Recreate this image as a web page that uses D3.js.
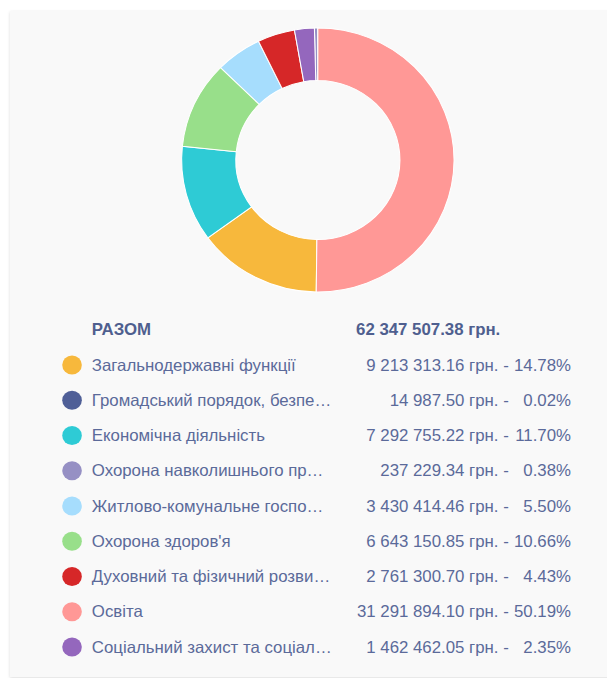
<!DOCTYPE html>
<html>
<head>
<meta charset="utf-8">
<script src="https://cdn.jsdelivr.net/npm/d3@7"></script>
<style>
  body { margin: 0; background: #fff; }
  #panel {
    position: absolute; left: 10px; top: 11px; width: 610px; height: 666px;
    background: #f9f9f9; box-shadow: 0 1px 3px rgba(0,0,0,0.14);
  }
  svg { position: absolute; left: 0; top: 0; }
  text { font-family: "Liberation Sans", Arial, sans-serif; }
</style>
</head>
<body>
<div id="panel"></div>
<div id="chart"></div>
<script>
// labels as they are shown (cut off with an ellipsis)
const categories = [
  "Загальнодержавні функції",
  "Громадський порядок, безпе…",
  "Економічна діяльність",
  "Охорона навколишнього пр…",
  "Житлово-комунальне госпо…",
  "Охорона здоров'я",
  "Духовний та фізичний розви…",
  "Освіта",
  "Соціальний захист та соціал…"
]
const amounts = [9213313.16, 14987.50, 7292755.22, 237229.34, 3430414.46, 6643150.85, 2761300.70, 31291894.10, 1462462.05]
const colors = ["#f7b83c", "#4f5f97", "#2ecbd5", "#9690c4", "#a6ddfd", "#98df8a", "#d62728", "#ff9896", "#9467bd"]
const totalLabel = "РАЗОМ"

var width = 607
var height = 678
// the screenshot is a little wider than tall, so everything is stretched a bit
const sx = 1.032
const cx = 308, cy = 160
const outerR = 132, innerR = 79.5
const textColor = "#5b6a9a"
const fontSize = "16.3px"

const locale = d3.formatLocale({ decimal: ".", thousands: " ", grouping: [3], currency: ["", ""] })
const fmtMoney = locale.format(",.2f")
const fmtPct = d3.format(".2f")

const total = d3.sum(amounts)
const data = categories.map((c, i) => ({ name: c, value: amounts[i], color: colors[i] }))

const svg = d3.select("#chart")
  .append("svg")
  .attr("width", width)
  .attr("height", height)
const g = svg.append("g")
  .attr("transform", "scale(" + sx + ",1)")

// donut
const pie = d3.pie().value(d => d.value).sort((a, b) => b.value - a.value)
const arc = d3.arc().innerRadius(innerR).outerRadius(outerR)

g.append("g")
  .attr("transform", "translate(" + cx + "," + cy + ")")
  .selectAll("path")
  .data(pie(data))
  .join("path")
  .attr("d", arc)
  .attr("fill", d => d.data.color)
  .attr("stroke", "#fff")
  .attr("stroke-width", 1)

// legend
const rowY = d3.scaleLinear().domain([0, 1]).range([370.5, 405.75])
const legend = g.append("g")

legend.append("text")
  .attr("x", 89).attr("y", 335.5)
  .attr("font-size", fontSize).attr("font-weight", "bold")
  .attr("fill", "#4f5f8f")
  .text(totalLabel)
legend.append("text")
  .attr("x", 345).attr("y", 335.5)
  .attr("font-size", fontSize).attr("font-weight", "bold")
  .attr("fill", "#4f5f8f")
  .text(fmtMoney(total) + " грн.")

const rows = legend.selectAll("g.row")
  .data(data)
  .join("g")
  .attr("class", "row")
  .attr("transform", (d, i) => "translate(0," + rowY(i) + ")")

rows.append("circle")
  .attr("cx", 69.8).attr("cy", -5.5).attr("r", 9.5)
  .attr("fill", d => d.color)

rows.append("text")
  .attr("x", 89)
  .attr("font-size", fontSize)
  .attr("fill", textColor)
  .text(d => d.name)

rows.append("text")
  .attr("x", 493)
  .attr("text-anchor", "end")
  .attr("font-size", fontSize)
  .attr("fill", textColor)
  .text(d => fmtMoney(d.value) + " грн. -")

rows.append("text")
  .attr("x", 553.3)
  .attr("text-anchor", "end")
  .attr("font-size", fontSize)
  .attr("fill", textColor)
  .text(d => fmtPct(d.value / total * 100) + "%")
</script>
</body>
</html>
